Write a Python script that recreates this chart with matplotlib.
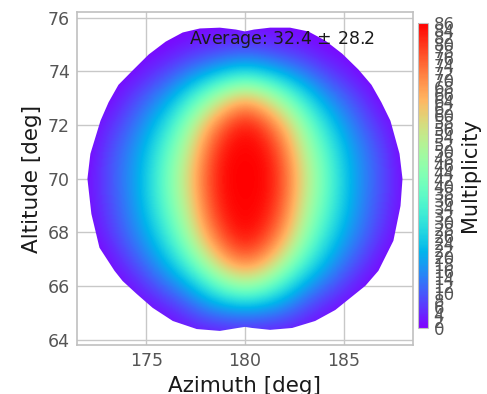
import matplotlib
matplotlib.use("Agg")
import numpy as np
import matplotlib.pyplot as plt
from matplotlib.patches import Polygon

# grid of multiplicity values
azimuth = [172, 173, 174, 175, 176, 177, 178, 179, 180, 181, 182, 183, 184, 185, 186, 187, 188]
altitude = [64, 65, 66, 67, 68, 69, 70, 71, 72, 73, 74, 75, 76]
mult_64 = [0, 0, 0, 0, 0, 0, 0, 1, 1, 1, 0, 0, 0, 0, 0, 0, 0]
mult_65 = [0, 0, 0, 0, 2, 6, 11, 13, 14, 13, 11, 6, 2, 0, 0, 0, 0]
mult_66 = [0, 0, 1, 6, 12, 19, 30, 42, 48, 42, 30, 19, 12, 6, 1, 0, 0]
mult_67 = [0, 1, 7, 14, 23, 36, 53, 69, 76, 69, 53, 36, 23, 14, 7, 1, 0]
mult_68 = [0, 5, 12, 20, 32, 48, 68, 81, 86, 81, 68, 48, 32, 20, 12, 5, 0]
mult_69 = [1, 7, 14, 24, 38, 54, 74, 85, 86, 85, 74, 54, 38, 24, 14, 7, 1]
mult_70 = [1, 8, 15, 25, 40, 57, 76, 86, 86, 86, 76, 57, 40, 25, 15, 8, 1]
mult_71 = [0, 7, 14, 23, 37, 53, 73, 85, 86, 85, 73, 53, 37, 23, 14, 7, 0]
mult_72 = [0, 4, 10, 18, 29, 45, 64, 78, 85, 78, 64, 45, 29, 18, 10, 4, 0]
mult_73 = [0, 0, 5, 11, 18, 29, 43, 57, 65, 57, 43, 29, 18, 11, 5, 0, 0]
mult_74 = [0, 0, 0, 3, 7, 12, 17, 22, 25, 22, 17, 12, 7, 3, 0, 0, 0]
mult_75 = [0, 0, 0, 0, 0, 2, 3, 4, 5, 4, 3, 2, 0, 0, 0, 0, 0]
mult_76 = [0, 0, 0, 0, 0, 0, 0, 0, 0, 0, 0, 0, 0, 0, 0, 0, 0]

# outline of the covered region
outline_az = [172.03, 172.18, 172.69, 173.10, 173.60, 174.31, 175.13, 175.99, 176.85, 177.72,
              178.73, 179.54, 180.00, 180.46, 181.27, 182.28, 183.20, 184.06, 184.92, 185.74,
              186.40, 186.90, 187.36, 187.82, 187.97, 187.87, 187.51, 186.75, 186.09, 185.33,
              184.57, 183.55, 182.39, 181.27, 180.36, 180.00, 179.64, 178.73, 177.56, 176.35,
              175.33, 174.52, 173.81, 173.40, 172.64, 172.23]
outline_alt = [70.00, 70.93, 72.16, 72.85, 73.50, 74.03, 74.63, 75.11, 75.45, 75.60,
               75.63, 75.56, 75.49, 75.56, 75.63, 75.63, 75.49, 75.15, 74.66, 74.07,
               73.50, 72.85, 72.16, 70.93, 70.00, 68.99, 67.69, 66.57, 66.01, 65.56,
               65.11, 64.70, 64.44, 64.37, 64.44, 64.48, 64.44, 64.33, 64.40, 64.70,
               65.19, 65.71, 66.19, 66.57, 67.43, 68.69]

mean_mult = 32.4
std_mult = 28.2
cbar_ticks = list(range(0, 87, 2))

field = np.array([mult_64, mult_65, mult_66, mult_67, mult_68, mult_69, mult_70,
                  mult_71, mult_72, mult_73, mult_74, mult_75, mult_76], dtype=float)

fig = plt.figure(figsize=(4.87, 3.94), dpi=100)
ax = fig.add_axes([0.158, 0.124, 0.690, 0.846])
ax.set_axisbelow(True)
ax.grid(True, color="#c8c8c8", linewidth=1.0)
for s in ax.spines.values():
    s.set_color("#c0c0c0")
    s.set_linewidth(1.2)

im = ax.imshow(field, origin="lower", cmap="rainbow", vmin=0, vmax=86,
               interpolation="bicubic", aspect="auto", zorder=2,
               extent=(azimuth[0] - 0.5, azimuth[-1] + 0.5, altitude[0] - 0.5, altitude[-1] + 0.5))
clip = Polygon(np.column_stack([outline_az, outline_alt]), closed=True, transform=ax.transData)
im.set_clip_path(clip)

ax.set_xlim(171.5, 188.5)
ax.set_ylim(63.8, 76.22)
ax.set_xticks([175, 180, 185])
ax.set_yticks([64, 66, 68, 70, 72, 74, 76])
ax.tick_params(length=0, labelsize=12.5, labelcolor="#555555", pad=5)
ax.set_xlabel("Azimuth [deg]", fontsize=15.5, color="#1a1a1a")
ax.set_ylabel("Altitude [deg]", fontsize=15.5, color="#1a1a1a")

ax.text(0.61, 0.916, "Average: %.1f $\\pm$ %.1f" % (mean_mult, std_mult), transform=ax.transAxes,
        ha="center", va="center", fontsize=12.5, color="#1a1a1a", zorder=5)

cax = fig.add_axes([0.858, 0.167, 0.0205, 0.775])
cb = fig.colorbar(im, cax=cax, ticks=cbar_ticks)
cb.outline.set_edgecolor("#c0c0c0")
cb.ax.tick_params(length=0, labelsize=12, labelcolor="#555555", pad=4)
cb.set_label("Multiplicity", fontsize=15, color="#1a1a1a")

fig.savefig("out.png", dpi=100)
